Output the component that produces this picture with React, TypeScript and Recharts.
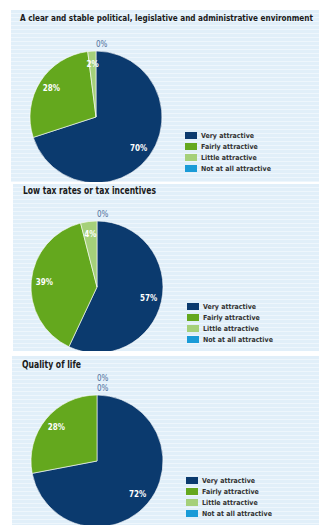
import React from "react";
import { PieChart, Pie, Cell, Legend } from "recharts";

const categories = [
  "Very attractive",
  "Fairly attractive",
  "Little attractive",
  "Not at all attractive",
];

const politicalValues = [70, 28, 2, 0];
const taxValues = [57, 39, 4, 0];
const lifeValues = [72, 28, 0, 0];

const titles = [
  "A clear and stable political, legislative and administrative environment",
  "Low tax rates or tax incentives",
  "Quality of life",
];

const COLORS = ["#0b3a6e", "#64a81e", "#a5d07a", "#1a9bd7"];
const RADIAN = Math.PI / 180;
const FONT = "'DejaVu Sans Condensed', 'Liberation Sans Narrow', sans-serif";

const makeLabel = (values: number[]) => (props: any) => {
  const { cx, cy, midAngle, outerRadius, value, index } = props;
  if (value === 0) {
    const zeros = values.filter((v) => v === 0).length;
    const pos = values.slice(0, index + 1).filter((v) => v === 0).length - 1;
    const k = zeros - 1 - pos;
    return (
      <text
        x={cx}
        y={cy - outerRadius - 7 - k * 10}
        fill="#4f6f9c"
        fontSize={8}
        fontFamily={FONT}
        textAnchor="start"
        dominantBaseline="central"
      >
        {value}%
      </text>
    );
  }
  const r = outerRadius * 0.8;
  const x = cx + r * Math.cos(-midAngle * RADIAN);
  const y = cy + r * Math.sin(-midAngle * RADIAN);
  return (
    <text
      x={x}
      y={y}
      fill="#ffffff"
      fontSize={8}
      fontWeight="bold"
      fontFamily={FONT}
      textAnchor="middle"
      dominantBaseline="central"
    >
      {value}%
    </text>
  );
};

const renderLegend = () => (
  <div style={{ fontFamily: FONT, fontSize: 7, fontWeight: "bold", color: "#333" }}>
    {categories.map((c, i) => (
      <div key={c} style={{ display: "flex", alignItems: "center", height: 11 }}>
        <span
          style={{
            display: "inline-block",
            width: 12,
            height: 7,
            background: COLORS[i],
            marginRight: 4,
          }}
        />
        <span>{c}</span>
      </div>
    ))}
  </div>
);

type PanelProps = {
  title: string;
  titleWidth: number;
  titleSize: number;
  values: number[];
  left: number;
  top: number;
  width: number;
  height: number;
  cx: number;
  cy: number;
  titleX: number;
  titleY: number;
  legendTop: number;
};

const PiePanel = ({
  title,
  titleWidth,
  titleSize,
  values,
  left,
  top,
  width,
  height,
  cx,
  cy,
  titleX,
  titleY,
  legendTop,
}: PanelProps) => {
  const data = categories.map((name, i) => ({ name, value: values[i] }));
  return (
    <div
      style={{
        position: "absolute",
        left,
        top,
        width,
        height,
        background:
          "repeating-linear-gradient(to bottom, #e1eff9 0px, #e1eff9 3px, #eef6fc 3px, #eef6fc 4px)",
      }}
    >
      <svg
        width={width}
        height={16}
        style={{ position: "absolute", left: 0, top: titleY - 8 }}
      >
        <text
          x={titleX}
          y={8}
          dominantBaseline="central"
          fontFamily={FONT}
          fontWeight="bold"
          fontSize={titleSize}
          fill="#1a1a1a"
          textLength={titleWidth}
          lengthAdjust="spacingAndGlyphs"
        >
          {title}
        </text>
      </svg>
      <div style={{ position: "absolute", left: 0, top: 0 }}>
        <PieChart width={width} height={height}>
          <Pie
            data={data}
            dataKey="value"
            nameKey="name"
            cx={cx}
            cy={cy}
            outerRadius={66}
            startAngle={90}
            endAngle={-270}
            stroke="#ffffff"
            strokeWidth={0.6}
            label={makeLabel(values)}
            labelLine={false}
            isAnimationActive={false}
          >
            {data.map((d, i) => (
              <Cell key={d.name} fill={COLORS[i]} />
            ))}
          </Pie>
          <Legend
            content={renderLegend}
            wrapperStyle={{ left: 174, top: legendTop, width: "auto" }}
          />
        </PieChart>
      </div>
    </div>
  );
};

export default function App() {
  return (
    <div
      style={{
        position: "absolute",
        left: 0,
        top: 0,
        width: 319,
        height: 525,
        background: "#ffffff",
        overflow: "hidden",
      }}
    >
      <PiePanel
        title={titles[0]}
        titleWidth={293}
        titleSize={8}
        values={politicalValues}
        left={11}
        top={10}
        width={308}
        height={172}
        cx={80}
        cy={102}
        titleX={9}
        titleY={8}
        legendTop={120}
      />
      <PiePanel
        title={titles[1]}
        titleWidth={133}
        titleSize={10}
        values={taxValues}
        left={13}
        top={184}
        width={306}
        height={167}
        cx={79}
        cy={98}
        titleX={10}
        titleY={6}
        legendTop={117}
      />
      <PiePanel
        title={titles[2]}
        titleWidth={59}
        titleSize={10}
        values={lifeValues}
        left={12}
        top={356}
        width={307}
        height={169}
        cx={80}
        cy={100}
        titleX={10}
        titleY={8}
        legendTop={119}
      />
    </div>
  );
}
